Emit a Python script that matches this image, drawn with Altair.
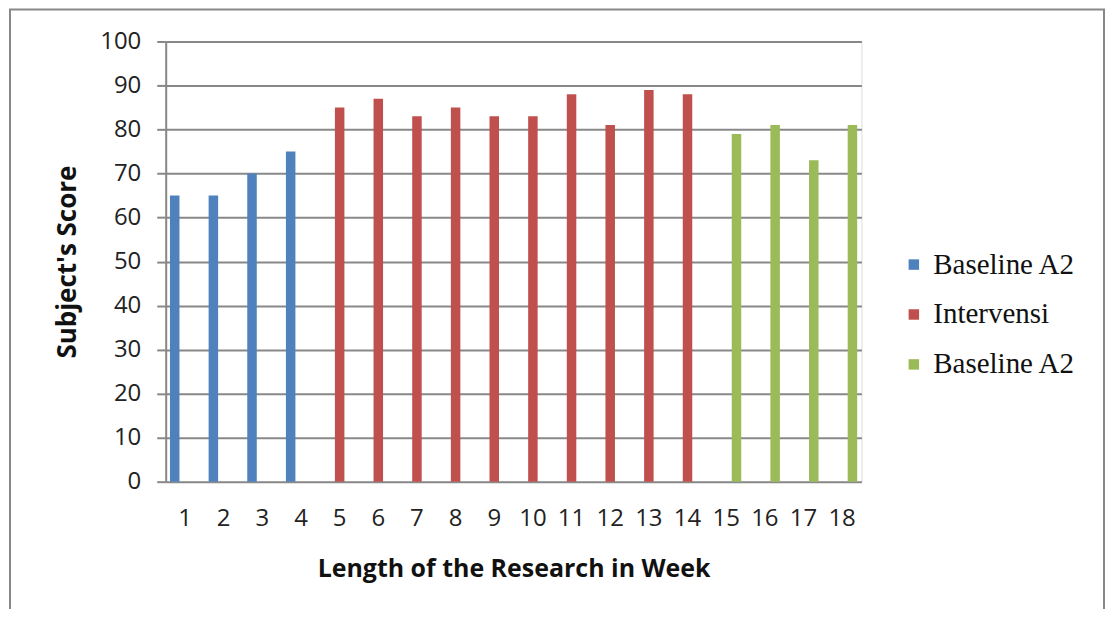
import altair as alt
import pandas as pd

weeks = list(range(1, 19))
scores = [65, 65, 70, 75, 85, 87, 83, 85, 83, 83, 88, 81, 89, 88, 79, 81, 73, 81]
phases = (["Baseline A2"] * 4 + ["Intervensi"] * 10 + ["Baseline A2 "] * 4)
phase_order = ["Baseline A2", "Intervensi", "Baseline A2 "]
phase_colors = ["#4F81BD", "#C0504D", "#9BBB59"]

df = pd.DataFrame({"week": weeks, "score": scores, "phase": phases})

W, H = 697, 441

bars = alt.Chart(df).mark_bar().encode(
    x=alt.X("week:O", title="Length of the Research in Week",
            scale=alt.Scale(paddingInner=0.22, paddingOuter=0.11),
            axis=alt.Axis(labelAngle=0, ticks=False, domain=False, labelPadding=25,
                          labelFont="Open Sans", labelFontSize=24, labelColor="#222",
                          titleFont="Open Sans", titleFontSize=25, titleFontWeight="bold",
                          titlePadding=26, titleColor="#111")),
    xOffset=alt.XOffset("phase:N", scale=alt.Scale(domain=phase_order, paddingInner=0.08)),
    y=alt.Y("score:Q", title="Subject's Score",
            scale=alt.Scale(domain=[0, 100], nice=False),
            axis=alt.Axis(values=list(range(0, 101, 10)), grid=True, gridColor="#888",
                          gridWidth=2, domainColor="#888", domainWidth=2,
                          tickColor="#888", tickWidth=2, tickSize=9,
                          labelPadding=16, labelFont="Open Sans", labelFontSize=24,
                          labelColor="#222", titleFont="Open Sans", titleFontSize=26,
                          titleFontWeight="bold", titlePadding=19, titleColor="#111")),
    color=alt.Color("phase:N", title=None,
                    scale=alt.Scale(domain=phase_order, range=phase_colors),
                    legend=alt.Legend(orient="none", legendX=735, legendY=209,
                                      symbolType="square", symbolSize=110,
                                      symbolStrokeWidth=0, labelFont="Liberation Serif",
                                      labelFontSize=29, labelColor="#111",
                                      rowPadding=20, labelOffset=5)),
)

border = alt.Chart(pd.DataFrame({"a": [0]})).mark_rect(
    fill=None, stroke="#888", strokeWidth=2, clip=False
).encode(x=alt.value(-156), x2=alt.value(940), y=alt.value(-32), y2=alt.value(620))

chart = alt.layer(bars, border).properties(
    width=W, height=H,
    autosize=alt.AutoSizeParams(type="none"),
    padding={"left": 158, "top": 33, "right": 245, "bottom": 127},
).configure_view(stroke=None).configure(background="white")

chart.save("out.html", embed_options={"renderer": "svg", "actions": False})
